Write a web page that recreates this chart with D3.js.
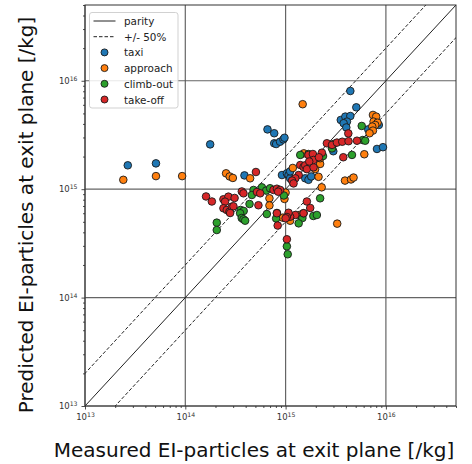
<!DOCTYPE html>
<html>
<head>
<meta charset="utf-8">
<script src="https://cdn.jsdelivr.net/npm/d3@7"></script>
<style>
  body { margin: 0; background: #fff; }
  svg { display: block; font-family: "DejaVu Sans", sans-serif; }
</style>
</head>
<body>
<svg id="chart" width="472" height="464"></svg>
<script>
// ---- data -------------------------------------------------------------
const axisDomain = [1e13, 5e16];
const decadeTicks = [1e13, 1e14, 1e15, 1e16];
const seriesNames = ["taxi", "approach", "climb-out", "take-off"];
const seriesColors = ["#1f77b4", "#ff7f0e", "#2ca02c", "#d62728"];
const bandFactors = [2, 0.5];   // dashed "+/- 50%" lines around parity

// [measured, predicted] EI-particles per kg
const taxi = [
  [2.67e13, 1.66e15], [5.1e13, 1.73e15], [1.77e14, 2.59e15], [6.6e14, 3.56e15],
  [7.7e14, 3.28e15], [7.7e14, 2.65e15], [8.05e14, 2.61e15], [8.8e14, 2.74e15],
  [9.5e14, 2.88e15], [9.75e14, 2.98e15], [3.89e14, 1.34e15], [9.2e14, 1.35e15],
  [1.03e15, 1.40e15], [1.07e15, 1.35e15], [1.11e15, 1.26e15], [1.11e15, 1.46e15],
  [1.20e15, 1.22e15], [1.57e15, 1.26e15], [1.69e15, 1.22e15], [1.80e15, 1.31e15],
  [4.42e15, 8.05e15], [5.07e15, 5.69e15], [3.55e15, 4.35e15], [3.94e15, 4.67e15],
  [4.42e15, 4.73e15], [4.09e15, 4.20e15], [3.79e15, 4.06e15], [4.03e15, 3.71e15],
  [6.67e15, 3.56e15], [8.5e15, 3.91e15], [2.99e15, 2.24e15], [8.15e15, 2.35e15],
  [9.35e15, 2.44e15]
];
const approach = [
  [2.41e13, 1.22e15], [5.1e13, 1.32e15], [9.3e13, 1.32e15], [2.55e14, 1.40e15],
  [2.77e14, 1.31e15], [2.98e14, 1.27e15], [4.43e14, 1.26e15], [1.48e15, 6.08e15],
  [1.18e15, 1.57e15], [1.97e15, 1.53e15], [2.21e15, 1.71e15], [2.13e15, 1.30e15],
  [2.29e15, 1.04e15], [3.91e15, 1.20e15], [4.49e15, 1.23e15], [4.76e15, 1.28e15],
  [3.27e15, 4.81e14], [6.09e15, 2.10e15], [7.43e15, 4.84e15], [8.0e15, 4.67e15],
  [7.54e15, 4.20e15], [8.26e15, 4.10e15], [7.83e15, 3.91e15], [7.31e15, 3.78e15],
  [7.43e15, 3.47e15], [6.87e15, 3.28e15], [1.52e15, 2.14e15], [2.21e15, 1.93e15],
  [6.9e14, 8.24e14], [6.9e14, 7.08e14], [9.75e14, 8.13e14], [1.0e15, 9.29e14],
  [9.4e14, 5.46e14], [1.37e15, 5.78e14], [1.11e15, 5.12e14]
];
const climbOut = [
  [1.40e15, 2.07e15], [1.69e15, 2.11e15], [1.90e15, 2.0e15], [2.36e15, 2.02e15],
  [2.90e15, 2.50e15], [3.01e15, 2.61e15], [2.90e15, 2.38e15], [5.74e15, 3.83e15],
  [5.88e15, 2.84e15], [6.22e15, 2.80e15], [4.59e15, 2.07e15], [4.79e14, 9.84e14],
  [5.8e14, 1.04e15], [6.4e14, 9.7e14], [7.0e14, 1.02e15], [4.37e14, 7.3e14],
  [3.56e14, 6.43e14], [3.82e14, 6.3e14], [3.52e14, 6.0e14], [3.65e14, 5.42e14],
  [3.8e14, 5.27e14], [3.95e14, 5.12e14], [2.06e14, 4.91e14], [2.06e14, 4.2e14],
  [6.5e14, 5.9e14], [9.6e14, 8.75e14], [2.21e15, 8.24e14], [1.47e15, 5.42e14],
  [1.51e15, 6.0e14], [1.35e15, 4.84e14], [1.89e15, 5.66e14], [2.05e15, 5.78e14],
  [8.2e14, 6.03e14], [8.05e14, 5.37e14], [1.03e15, 2.97e14], [1.05e15, 2.51e14],
  [4.61e14, 8.84e14]
];
const takeOff = [
  [5.06e14, 1.44e15], [1.61e14, 8.57e14], [1.84e14, 7.7e14], [2.40e14, 8.07e14],
  [2.69e14, 8.53e14], [3.1e14, 8.3e14], [2.49e14, 7.67e14], [2.40e14, 6.67e14],
  [2.59e14, 6.43e14], [2.75e14, 6.19e14], [2.91e14, 6.9e14], [3.02e14, 6.95e14],
  [2.8e14, 6.03e14], [3.66e14, 9.53e14], [3.8e14, 9.16e14], [5.18e14, 9.42e14],
  [5.58e14, 9.16e14], [5.36e14, 7.11e14], [7.57e14, 9.84e14], [8.19e14, 1.01e15],
  [8.83e14, 9.84e14], [8.43e14, 9.48e14], [1.40e15, 1.67e15], [1.51e15, 1.60e15],
  [1.57e15, 1.66e15], [1.63e15, 1.53e15], [1.90e15, 1.59e15], [1.35e15, 1.35e15],
  [1.25e15, 1.26e15], [1.16e15, 1.20e15], [1.20e15, 1.13e15], [1.69e15, 2.07e15],
  [1.87e15, 2.11e15], [2.30e15, 2.17e15], [1.90e15, 1.86e15], [1.72e15, 1.80e15],
  [2.15e15, 1.97e15], [2.58e15, 2.65e15], [2.90e15, 2.56e15], [3.25e15, 2.69e15],
  [3.67e15, 2.74e15], [4.24e15, 2.77e15], [5.15e15, 2.80e15], [4.22e15, 3.27e15],
  [3.76e15, 1.97e15], [1.63e15, 7.7e14], [1.76e15, 6.71e14], [1.51e15, 6.0e14],
  [1.25e15, 5.78e14], [1.11e15, 5.57e14], [1.07e15, 6.06e14], [1.03e15, 5.54e14],
  [8.19e14, 6.0e14], [8.34e14, 4.62e14], [1.0e15, 5.39e14], [1.03e15, 3.45e14]
];
const seriesData = [taxi, approach, climbOut, takeOff];

// ---- layout -----------------------------------------------------------
const svg = d3.select("#chart");
const plot = { left: 85, top: 5, right: 456, bottom: 406 };

const x = d3.scaleLog().domain(axisDomain).range([plot.left, plot.right]);
const y = d3.scaleLog().domain(axisDomain).range([plot.bottom, plot.top]);

const minorTicks = [];
for (let e = 13; e <= 16; e++) {
  for (let m = 2; m <= 9; m++) {
    const v = m * Math.pow(10, e);
    if (v <= axisDomain[1]) minorTicks.push(v);
  }
}

svg.append("defs").append("clipPath").attr("id", "plot-clip")
  .append("rect")
  .attr("x", plot.left).attr("y", plot.top)
  .attr("width", plot.right - plot.left).attr("height", plot.bottom - plot.top);

// major grid
const grid = svg.append("g").attr("class", "grid");
grid.selectAll("line.gx").data(decadeTicks).join("line")
  .attr("x1", d => x(d)).attr("x2", d => x(d))
  .attr("y1", plot.top).attr("y2", plot.bottom)
  .attr("stroke", "#555").attr("stroke-width", 1.2).attr("opacity", 0.9);
grid.selectAll("line.gy").data(decadeTicks).join("line")
  .attr("y1", d => y(d)).attr("y2", d => y(d))
  .attr("x1", plot.left).attr("x2", plot.right)
  .attr("stroke", "#555").attr("stroke-width", 1.2).attr("opacity", 0.9);

// reference lines
const refLines = svg.append("g").attr("clip-path", "url(#plot-clip)");
const lineGen = k => d3.line()
  .x(d => x(d)).y(d => y(d * k))([axisDomain[0] / 4, axisDomain[1] * 4]);
refLines.append("path").attr("d", lineGen(1))
  .attr("fill", "none").attr("stroke", "#222").attr("stroke-width", 1);
bandFactors.forEach(k => {
  refLines.append("path").attr("d", lineGen(k))
    .attr("fill", "none").attr("stroke", "#222").attr("stroke-width", 1)
    .attr("stroke-dasharray", "3.5,2");
});

// scatter points
const pts = svg.append("g").attr("clip-path", "url(#plot-clip)");
seriesData.forEach((data, i) => {
  pts.append("g").selectAll("circle").data(data).join("circle")
    .attr("cx", d => x(d[0])).attr("cy", d => y(d[1]))
    .attr("r", 3.8)
    .attr("fill", seriesColors[i])
    .attr("stroke", "#1a1a1a").attr("stroke-width", 0.9);
});

// axes
function supLabels(sel) {
  sel.selectAll(".tick text").each(function (d) {
    const t = d3.select(this);
    t.text("");
    t.append("tspan").text("10");
    t.append("tspan").attr("dy", "-0.5em").attr("font-size", "0.72em")
      .text(Math.round(Math.log10(d)));
  });
}
function styleAxis(g) {
  g.select(".domain").remove();
  g.selectAll(".tick line").attr("stroke", "#222").attr("stroke-width", 0.8);
  g.selectAll(".tick text").attr("fill", "#333")
    .attr("font-family", "DejaVu Sans, sans-serif").attr("font-size", 8.5);
}

const xAxis = svg.append("g").attr("transform", `translate(0,${plot.bottom})`)
  .call(d3.axisBottom(x).tickValues(decadeTicks).tickSize(3.5).tickPadding(4.5));
styleAxis(xAxis); supLabels(xAxis);
const xMinor = svg.append("g").attr("transform", `translate(0,${plot.bottom})`)
  .call(d3.axisBottom(x).tickValues(minorTicks).tickSize(2).tickFormat(""));
styleAxis(xMinor);

const yAxis = svg.append("g").attr("transform", `translate(${plot.left},0)`)
  .call(d3.axisLeft(y).tickValues(decadeTicks).tickSize(3.5).tickPadding(4));
styleAxis(yAxis); supLabels(yAxis);
const yMinor = svg.append("g").attr("transform", `translate(${plot.left},0)`)
  .call(d3.axisLeft(y).tickValues(minorTicks).tickSize(2).tickFormat(""));
styleAxis(yMinor);

// frame
svg.append("rect")
  .attr("x", plot.left).attr("y", plot.top)
  .attr("width", plot.right - plot.left).attr("height", plot.bottom - plot.top)
  .attr("fill", "none").attr("stroke", "#333").attr("stroke-width", 1);

// axis titles
svg.append("text")
  .attr("x", 254).attr("y", 457)
  .attr("text-anchor", "middle").attr("font-size", 20).attr("fill", "#111")
  .text("Measured EI-particles at exit plane [/kg]");
svg.append("text")
  .attr("transform", "translate(33,215) rotate(-90)")
  .attr("text-anchor", "middle").attr("font-size", 20).attr("fill", "#111")
  .text("Predicted EI-particles at exit plane [/kg]");

// legend
const legend = svg.append("g");
legend.append("rect")
  .attr("x", 89.5).attr("y", 12.5).attr("width", 88.5).attr("height", 95.5)
  .attr("rx", 2.5).attr("fill", "#fff").attr("fill-opacity", 0.85)
  .attr("stroke", "#ccc").attr("stroke-width", 0.9);
const legendItems = [
  { label: "parity", kind: "line" },
  { label: "+/- 50%", kind: "dash" },
  ...seriesNames.map((n, i) => ({ label: n, kind: "dot", color: seriesColors[i] }))
];
legendItems.forEach((item, i) => {
  const cy = 21 + i * 15.7;
  if (item.kind === "dot") {
    legend.append("circle").attr("cx", 104.5).attr("cy", cy).attr("r", 3.5)
      .attr("fill", item.color).attr("stroke", "#1a1a1a").attr("stroke-width", 0.9);
  } else {
    legend.append("line").attr("x1", 93.5).attr("x2", 115.5)
      .attr("y1", cy).attr("y2", cy)
      .attr("stroke", "#222").attr("stroke-width", 1)
      .attr("stroke-dasharray", item.kind === "dash" ? "3.5,2" : null);
  }
  legend.append("text").attr("x", 124).attr("y", cy)
    .attr("dominant-baseline", "central")
    .attr("font-size", 10.4).attr("fill", "#222")
    .text(item.label);
});
</script>
</body>
</html>
